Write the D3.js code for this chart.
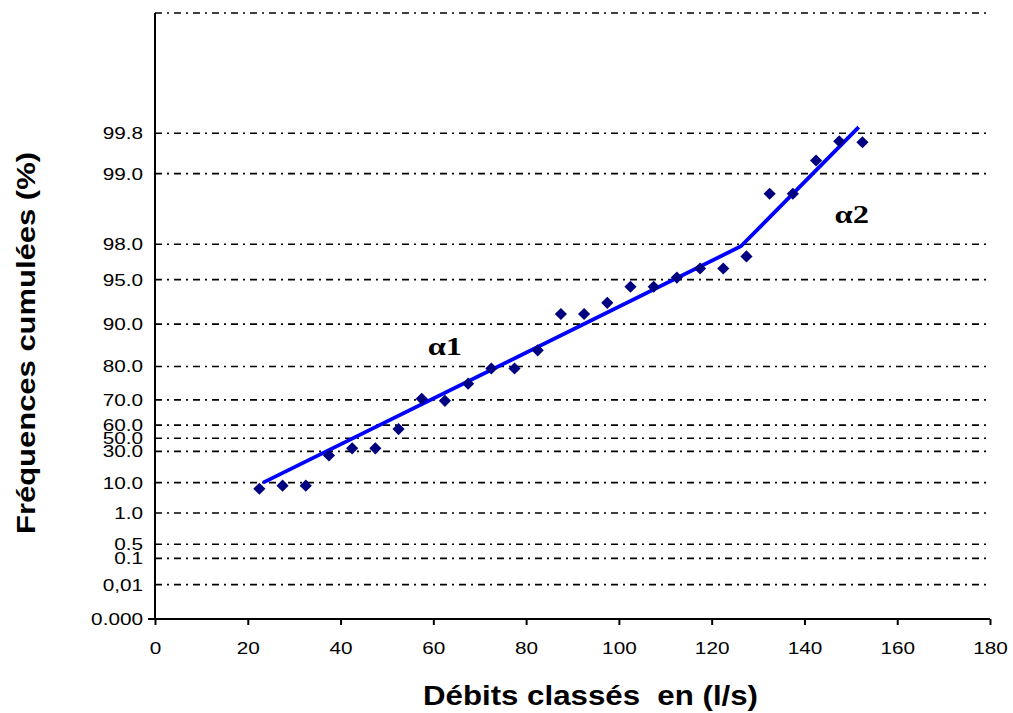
<!DOCTYPE html>
<html>
<head>
<meta charset="utf-8">
<script src="https://cdn.jsdelivr.net/npm/d3@7"></script>
<style>
  html, body { margin: 0; padding: 0; background: #fff; }
  svg { display: block; }
</style>
</head>
<body>
<svg id="chart" width="1013" height="713"></svg>
<script>
// ---- data ----
const flows = [22.5, 27.5, 32.5, 37.5, 42.5, 47.5, 52.5, 57.5, 62.5, 67.5, 72.5, 77.5, 82.5, 87.5,
               92.5, 97.5, 102.5, 107.5, 112.5, 117.5, 122.5, 127.5, 132.5, 137.5, 142.5, 147.5, 152.5];
// cumulative frequencies expressed on the (reduced) vertical scale of the probability paper
const freqU = [1.29, 1.32, 1.32, 1.62, 1.69, 1.69, 1.88, 2.18, 2.16, 2.33, 2.48, 2.48, 2.66, 3.02,
               3.02, 3.13, 3.29, 3.29, 3.38, 3.47, 3.47, 3.59, 4.21, 4.21, 4.54, 4.73, 4.72];
// fitted broken line (alpha1, alpha2)
const fitX = [23.3, 126.3, 151.7];
const fitU = [1.35, 3.69, 4.87];
// probability grid: positions on reduced scale and their labels
const gridU = [0, 0.34, 0.60, 0.74, 1.05, 1.35, 1.66, 1.79, 1.92, 2.17, 2.50, 2.92, 3.36, 3.71, 4.41, 4.81, 6.0];
const gridLabels = ["0.000", "0,01", "0.1", "0.5", "1.0", "10.0", "30.0", "50.0", "60.0", "70.0",
                    "80.0", "90.0", "95.0", "98.0", "99.0", "99.8", ""];
const xTicks = [0, 20, 40, 60, 80, 100, 120, 140, 160, 180];
const slopeLabels = [{t: "α1", x: 62.5, u: 2.61}, {t: "α2", x: 150.2, u: 3.92}];

(function () {
// ---- layout ----
const svg = d3.select("#chart");
const mL = 155, mR = 990, mT = 13, mB = 619;
const x = d3.scaleLinear().domain([0, 180]).range([mL, mR]);
const y = d3.scaleLinear().domain([0, 6]).range([mB, mT]);
const sansFont = "'Liberation Sans', Arial, Helvetica, sans-serif";

function stretch(sel, k) {
  sel.each(function () {
    const w = this.getComputedTextLength();
    if (w > 0) d3.select(this).attr("textLength", w * k).attr("lengthAdjust", "spacingAndGlyphs");
  });
}

// gridlines
svg.append("g").selectAll("line")
  .data(gridU.filter(v => v > 0))
  .join("line")
  .attr("x1", mL).attr("x2", mR)
  .attr("y1", d => y(d)).attr("y2", d => y(d))
  .attr("stroke", "#000").attr("stroke-width", 1.6)
  .attr("stroke-dasharray", "7,5,2,5");

// y axis (labels only, through d3 axis)
const yAxis = svg.append("g")
  .attr("transform", `translate(${mL},0)`)
  .call(d3.axisLeft(y).tickValues(gridU).tickSize(0).tickPadding(12)
        .tickFormat((d, i) => gridLabels[i]));
yAxis.select(".domain").remove();
yAxis.selectAll("text")
  .attr("font-family", sansFont).attr("font-size", 17).attr("fill", "#000");
stretch(yAxis.selectAll("text"), 1.22);

// left axis line
svg.append("line")
  .attr("x1", mL).attr("x2", mL).attr("y1", y(6)).attr("y2", y(0))
  .attr("stroke", "#000").attr("stroke-width", 2);

// x axis
const xAxis = svg.append("g")
  .attr("transform", `translate(0,${mB})`)
  .call(d3.axisBottom(x).tickValues(xTicks).tickSize(6).tickSizeOuter(0).tickFormat(d3.format("d")));
xAxis.select(".domain").remove();
xAxis.selectAll(".tick line").attr("stroke", "#000").attr("stroke-width", 2);
xAxis.selectAll("text")
  .attr("y", 35).attr("dy", 0)
  .attr("font-family", sansFont).attr("font-size", 17).attr("fill", "#000");
stretch(xAxis.selectAll("text"), 1.22);
svg.append("line")
  .attr("x1", mL - 7).attr("x2", mR).attr("y1", mB).attr("y2", mB)
  .attr("stroke", "#000").attr("stroke-width", 2);

// fitted line
svg.append("path")
  .datum(fitX.map((v, i) => [v, fitU[i]]))
  .attr("d", d3.line().x(d => x(d[0])).y(d => y(d[1])))
  .attr("fill", "none").attr("stroke", "#0000FF").attr("stroke-width", 3.8)
  .attr("stroke-linejoin", "miter");

// markers
const diamond = d3.symbol().type(d3.symbolSquare).size(74);
svg.append("g").selectAll("path")
  .data(flows.map((v, i) => [v, freqU[i]]))
  .join("path")
  .attr("d", diamond)
  .attr("transform", d => `translate(${x(d[0])},${y(d[1])}) rotate(45)`)
  .attr("fill", "#000080");

// slope labels
const sl = svg.append("g").selectAll("text")
  .data(slopeLabels)
  .join("text")
  .attr("x", d => x(d.x)).attr("y", d => y(d.u))
  .attr("text-anchor", "middle")
  .attr("font-family", "'Liberation Serif', 'Times New Roman', serif")
  .attr("font-weight", "bold").attr("font-size", 26).attr("fill", "#000")
  .text(d => d.t);
stretch(sl, 1.25);

// axis titles
const xt = svg.append("text")
  .attr("x", (mL + mR) / 2 + 18).attr("y", 705)
  .attr("text-anchor", "middle")
  .style("white-space", "pre")
  .attr("font-family", sansFont).attr("font-weight", "bold").attr("font-size", 28)
  .text("Débits classés  en (l/s)");
xt.attr("textLength", 335).attr("lengthAdjust", "spacingAndGlyphs");

const yt = svg.append("text")
  .attr("transform", "translate(35,343) rotate(-90)")
  .attr("text-anchor", "middle")
  .attr("font-family", sansFont).attr("font-weight", "bold").attr("font-size", 25)
  .text("Fréquences cumulées (%)");
yt.attr("textLength", 382).attr("lengthAdjust", "spacingAndGlyphs");
})();
</script>
</body>
</html>
